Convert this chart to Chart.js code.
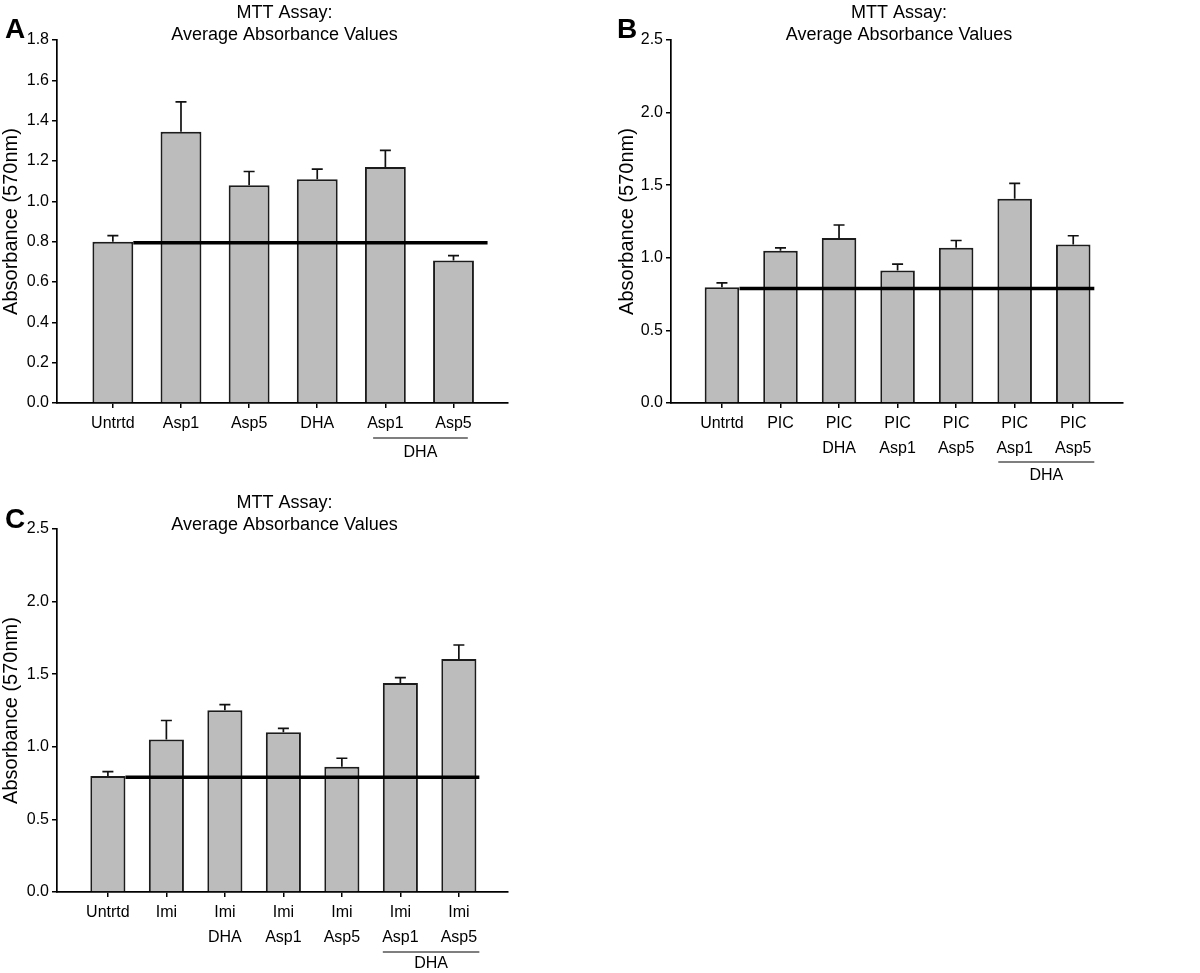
<!DOCTYPE html>
<html>
<head>
<meta charset="utf-8">
<script src="https://cdn.jsdelivr.net/npm/chart.js@4/dist/chart.umd.min.js"></script>
<style>
body { margin: 0; background: #fff; width: 1200px; height: 973px; position: relative; overflow: hidden; }
canvas { position: absolute; }
</style>
</head>
<body>
<canvas id="chartA" width="600" height="490" style="left:0;top:0"></canvas>
<canvas id="chartB" width="600" height="490" style="left:600px;top:0"></canvas>
<canvas id="chartC" width="600" height="483" style="left:0;top:490px"></canvas>
<script>
// Panel A
const labelsA = ['Untrtd', 'Asp1', 'Asp5', 'DHA', 'Asp1', 'Asp5'];
const meansA = [0.80, 1.345, 1.08, 1.11, 1.17, 0.707];
const errsA = [0.03, 0.148, 0.068, 0.05, 0.083, 0.024];
const refA = 0.795;
const ticksA = [0, 0.2, 0.4, 0.6, 0.8, 1.0, 1.2, 1.4, 1.6, 1.8];

// Panel B
const labelsB = ['Untrtd', 'PIC', ['PIC', 'DHA'], ['PIC', 'Asp1'], ['PIC', 'Asp5'], ['PIC', 'Asp1'], ['PIC', 'Asp5']];
const meansB = [0.797, 1.048, 1.136, 0.913, 1.069, 1.407, 1.092];
const errsB = [0.03, 0.02, 0.09, 0.044, 0.05, 0.106, 0.06];
const refB = 0.789;
const ticksB = [0, 0.5, 1.0, 1.5, 2.0, 2.5];

// Panel C
const labelsC = ['Untrtd', 'Imi', ['Imi', 'DHA'], ['Imi', 'Asp1'], ['Imi', 'Asp5'], ['Imi', 'Asp1'], ['Imi', 'Asp5']];
const meansC = [0.799, 1.051, 1.251, 1.10, 0.863, 1.439, 1.605];
const errsC = [0.03, 0.13, 0.04, 0.027, 0.058, 0.037, 0.096];
const refC = 0.79;
const ticksC = [0, 0.5, 1.0, 1.5, 2.0, 2.5];

const FONT = '"Liberation Sans", Arial, Helvetica, sans-serif';
Chart.defaults.font.family = FONT;
Chart.defaults.color = '#000';

const errorBars = {
  id: 'errorBars',
  afterDatasetsDraw(chart, args, opts) {
    const ctx = chart.ctx;
    const meta = chart.getDatasetMeta(0);
    const y = chart.scales.y;
    ctx.save();
    ctx.strokeStyle = '#111';
    ctx.lineWidth = 1.7;
    meta.data.forEach((bar, i) => {
      const top = y.getPixelForValue(chart.data.datasets[0].data[i].y + opts.errs[i]);
      ctx.beginPath();
      ctx.moveTo(bar.x, bar.y);
      ctx.lineTo(bar.x, top);
      ctx.moveTo(bar.x - 5.5, top);
      ctx.lineTo(bar.x + 5.5, top);
      ctx.stroke();
    });
    ctx.restore();
  }
};

const panelText = {
  id: 'panelText',
  afterDraw(chart, args, o) {
    const ctx = chart.ctx;
    const area = chart.chartArea;
    const x = chart.scales.x;
    ctx.save();
    ctx.fillStyle = '#000';
    // panel letter
    ctx.font = 'bold 28px ' + FONT;
    ctx.textAlign = 'left';
    ctx.textBaseline = 'alphabetic';
    ctx.fillText(o.letter, o.letterX, 38);
    // title
    ctx.font = '18px ' + FONT;
    ctx.textAlign = 'center';
    const cx = (area.left + area.right) / 2 + 2;
    ctx.fillText('MTT Assay:', cx, 18);
    ctx.fillText('Average Absorbance Values', cx, 40);
    // y title
    ctx.save();
    ctx.translate(o.yTitleX, (area.top + area.bottom) / 2);
    ctx.rotate(-Math.PI / 2);
    ctx.font = '20px ' + FONT;
    ctx.fillText('Absorbance (570nm)', 0, 0);
    ctx.restore();
    // group bracket
    const x1 = x.getPixelForValue(o.groupFrom);
    const x2 = x.getPixelForValue(o.groupTo);
    ctx.strokeStyle = '#000';
    ctx.lineWidth = 1.2;
    ctx.beginPath();
    ctx.moveTo(x1, area.bottom + o.lineOff);
    ctx.lineTo(x2, area.bottom + o.lineOff);
    ctx.stroke();
    ctx.font = '16px ' + FONT;
    ctx.fillText(o.groupLabel, (x1 + x2) / 2, area.bottom + o.textOff);
    ctx.restore();
  }
};

function makePanel(id, labels, means, errs, ref, yTicks, p) {
  new Chart(document.getElementById(id), {
    data: {
      datasets: [{
        type: 'bar',
        data: means.map((v, i) => ({ x: i + 1, y: v })),
        backgroundColor: '#bcbcbc',
        borderColor: '#1c1c1c',
        borderWidth: 2,
        categoryPercentage: 1,
        barPercentage: p.barPct,
        order: 2
      }, {
        type: 'line',
        data: [{ x: 1.3, y: ref }, { x: p.refEnd, y: ref }],
        borderColor: '#000',
        borderWidth: 3.5,
        pointRadius: 0,
        order: 1
      }]
    },
    options: {
      responsive: false,
      animation: false,
      events: [],
      layout: { padding: { top: p.top, right: p.right, left: 0, bottom: 0 } },
      plugins: {
        legend: { display: false },
        tooltip: { enabled: false },
        errorBars: { errs: errs },
        panelText: p.text
      },
      scales: {
        x: {
          type: 'linear',
          min: p.xMin,
          max: p.xMax,
          offset: false,
          afterBuildTicks: s => { s.ticks = labels.map((l, i) => ({ value: i + 1 })); },
          afterFit: s => { s.height = p.xHeight; },
          ticks: {
            callback: v => labels[v - 1],
            autoSkip: false,
            maxRotation: 0,
            padding: 3,
            font: { size: 16, lineHeight: 1.55 },
            color: '#000'
          },
          grid: { display: true, drawOnChartArea: false, drawTicks: true, tickLength: 5, color: '#000', lineWidth: 1.5, offset: false },
          border: { display: true, color: '#000', width: 1.7 }
        },
        y: {
          min: 0,
          max: yTicks[yTicks.length - 1],
          afterBuildTicks: s => { s.ticks = yTicks.map(v => ({ value: v })); },
          afterFit: s => { s.width = p.yWidth; },
          ticks: {
            callback: v => v.toFixed(1),
            padding: 3,
            font: { size: 16 },
            color: '#000'
          },
          grid: { display: true, drawOnChartArea: false, drawTicks: true, tickLength: 5, color: '#000', lineWidth: 1.5 },
          border: { display: true, color: '#000', width: 1.7 }
        }
      }
    },
    plugins: [errorBars, panelText]
  });
}

makePanel('chartA', labelsA, meansA, errsA, refA, ticksA, {
  barPct: 0.6, refEnd: 6.5, top: 40, right: 92, xMin: 0.18, xMax: 6.8, xHeight: 87, yWidth: 57,
  text: { letter: 'A', letterX: 5, yTitleX: 17, groupLabel: 'DHA', groupFrom: 4.82, groupTo: 6.21, lineOff: 35, textOff: 54 }
});
makePanel('chartB', labelsB, meansB, errsB, refB, ticksB, {
  barPct: 0.59, refEnd: 7.36, top: 40, right: 77, xMin: 0.13, xMax: 7.85, xHeight: 87, yWidth: 71,
  text: { letter: 'B', letterX: 17, yTitleX: 33, groupLabel: 'DHA', groupFrom: 5.72, groupTo: 7.36, lineOff: 59, textOff: 77 }
});
makePanel('chartC', labelsC, meansC, errsC, refC, ticksC, {
  barPct: 0.6, refEnd: 7.35, top: 39, right: 92, xMin: 0.13, xMax: 7.84, xHeight: 81, yWidth: 57,
  text: { letter: 'C', letterX: 5, yTitleX: 17, groupLabel: 'DHA', groupFrom: 5.70, groupTo: 7.35, lineOff: 60, textOff: 76 }
});
</script>
</body>
</html>
